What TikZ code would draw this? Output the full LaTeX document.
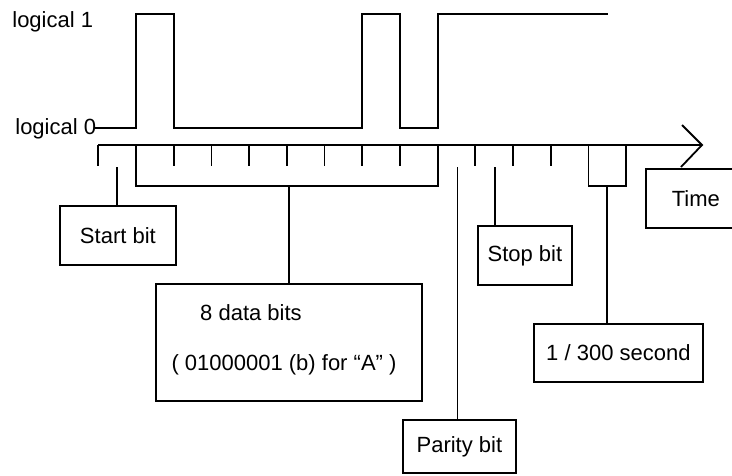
\documentclass[tikz,border=0pt]{standalone}
\usepackage{fontspec}
\setmainfont{Liberation Sans}

\begin{document}
\begin{tikzpicture}[x=1pt,y=-1pt,line width=1.8pt,
  every node/.style={font=\fontsize{22}{26}\selectfont},
  bitbox/.style={draw,line width=1.8pt,inner sep=0pt,anchor=north west}]
\useasboundingbox (0,0) rectangle (732,475);
\clip (0,0) rectangle (732,475);
\foreach \k in {0,...,14} \coordinate (t\k) at ({98.3+37.7*\k},145);
\coordinate (tip) at (702,145);
\node[anchor=east,inner sep=0pt] (lone) at (94,22) {logical 1};
\node[anchor=east,inner sep=0pt] (lzero) at (97,129) {logical 0};
\draw (95,128) -| (136,14) -| (173.7,128) -| (362.2,14) -| (399.9,128) -| (437.6,14) -- (608,14);
\draw (t0) -- (tip);
\draw (682,125) -- (tip) -- (681,167);
\foreach \k in {0,2,3,4,5,6,7,8,10,11,12} \draw (t\k) -- ++(0,21);
\draw (t1) -- ++(0,41) coordinate (db) -| (t9);
\draw (t13) -- ++(0,41) coordinate (sb) -| (t14);
\path (t13) -- (t14) coordinate[pos=0.5] (smid);
\node[bitbox,minimum width=116pt,minimum height=59pt] (start) at (59,205) {Start bit};
\node[bitbox,minimum width=266pt,minimum height=117pt] (data) at (155,283) {};
\node (dline1) at (251,313) {8 data bits};
\node (dline2) at (284,365) {( 01000001 (b) for “A” )};
\node[bitbox,minimum width=113pt,minimum height=53pt] (parity) at (402,419) {Parity bit};
\node[bitbox,minimum width=94pt,minimum height=59pt] (stop) at (477,225) {Stop bit};
\node[bitbox,minimum width=169pt,minimum height=58pt] (sec) at (533,323) {1 / 300 second};
\node[bitbox,minimum width=100pt,minimum height=59pt] (time) at (645,168) {Time\hspace{10pt}};
\coordinate (sttop) at (117,167);
\coordinate (ptop) at (457.5,167);
\coordinate (stoptop) at (495,167);
\draw (sttop) -- (sttop |- start.north);
\draw (data.north |- db) -- (data.north);
\draw (ptop) -- (ptop |- parity.north);
\draw (stoptop) -- (stoptop |- stop.north);
\draw (smid |- sb) -- (smid |- sec.north);
\end{tikzpicture}
\end{document}
